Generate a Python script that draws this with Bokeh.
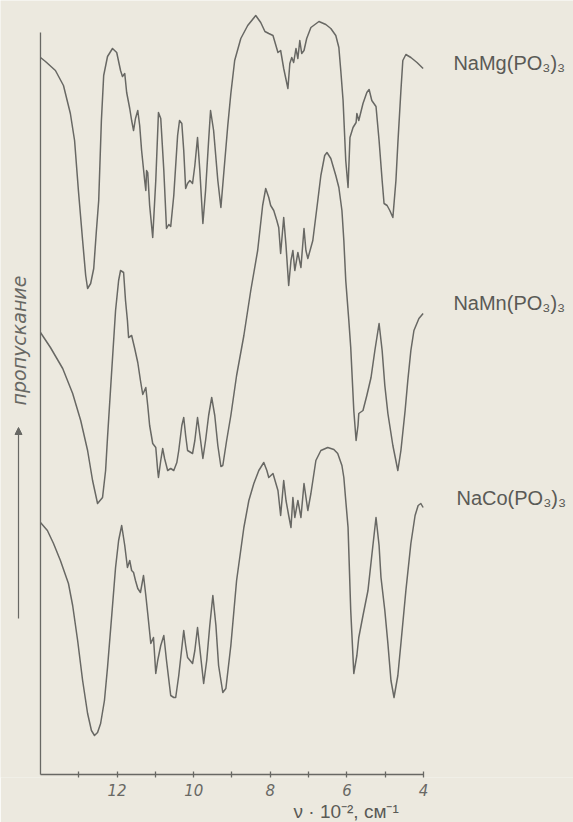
from bokeh.plotting import figure
from bokeh.models import Range1d, FixedTicker, Label, Arrow, NormalHead, ColumnDataSource, Title
from bokeh.embed import file_html
from bokeh.resources import INLINE
import math

# wavenumber in 10^2 cm^-1 ; transmittance in arbitrary units (curves offset)
mg_nu = [14.00,13.87,13.61,13.40,13.22,13.11,13.01,12.90,12.82,12.77,
         12.69,12.61,12.54,12.48,12.41,12.35,12.25,12.12,12.01,11.91,
         11.86,11.80,11.75,11.67,11.62,11.57,11.52,11.46,11.41,11.36,
         11.28,11.25,11.23,11.20,11.15,11.07,10.99,10.92,10.86,10.78,
         10.71,10.65,10.60,10.52,10.42,10.37,10.31,10.26,10.21,10.16,
         10.10,10.03,9.97,9.90,9.84,9.76,9.69,9.61,9.56,9.48,
         9.37,9.29,9.22,9.11,9.03,8.93,8.77,8.59,8.38,8.25,
         8.14,8.04,7.93,7.80,7.73,7.65,7.54,7.49,7.44,7.39,
         7.33,7.28,7.23,7.18,7.12,7.05,6.94,6.73,6.55,6.42,
         6.29,6.21,6.16,6.10,6.03,5.97,5.92,5.84,5.76,5.74,
         5.69,5.58,5.48,5.42,5.35,5.24,5.16,5.08,5.03,4.95,
         4.88,4.80,4.72,4.67,4.59,4.54,4.46,4.33,4.17,4.01]
mg_t = [717,713,704,689,661,634,584,534,499,486,
        491,506,544,574,654,699,718,726,722,704,
        698,701,682,666,654,644,656,664,649,624,
        594,584,604,602,569,537,594,662,656,604,
        546,550,548,579,639,654,651,624,586,591,
        594,591,609,637,604,551,584,634,664,644,
        594,567,599,649,681,714,736,749,759,752,
        743,741,739,722,724,706,686,711,717,712,
        726,716,734,721,724,736,747,753,750,746,
        739,727,704,674,614,587,637,647,652,661,
        654,671,682,685,674,668,634,594,571,569,
        564,557,594,631,684,714,720,717,712,706]

mn_nu = [14.00,13.74,13.42,13.16,12.95,12.77,12.64,12.51,12.38,12.30,
         12.25,12.14,12.04,11.96,11.91,11.83,11.78,11.73,11.70,11.62,
         11.54,11.46,11.39,11.33,11.25,11.20,11.15,11.07,10.99,10.94,
         10.92,10.86,10.81,10.76,10.68,10.60,10.52,10.44,10.39,10.31,
         10.26,10.21,10.16,10.03,9.97,9.90,9.82,9.76,9.69,9.61,
         9.53,9.45,9.37,9.29,9.24,9.14,9.03,8.88,8.69,8.51,
         8.33,8.20,8.12,8.04,7.99,7.91,7.83,7.78,7.73,7.65,
         7.59,7.52,7.46,7.41,7.36,7.28,7.20,7.12,7.07,7.02,
         6.89,6.76,6.68,6.58,6.52,6.42,6.29,6.21,6.13,6.08,
         6.03,5.95,5.90,5.82,5.76,5.71,5.69,5.58,5.48,5.37,
         5.27,5.16,5.08,5.01,4.93,4.80,4.67,4.59,4.48,4.41,
         4.33,4.25,4.12,4.01]
mn_t = [442,427,406,381,354,324,294,271,277,304,
        337,404,464,494,504,502,474,454,437,439,
        426,412,394,380,387,369,349,331,327,304,
        297,314,326,316,304,306,304,312,324,349,
        357,339,324,321,334,357,334,316,334,359,
        377,359,329,308,309,334,359,399,439,484,
        524,569,586,577,569,564,554,547,521,557,
        529,489,514,524,504,522,507,546,524,516,
        534,574,599,619,622,616,599,587,564,534,
        494,454,427,364,334,349,361,364,379,397,
        424,451,424,389,361,329,304,324,364,394,
        424,444,456,461]

co_nu = [14.00,13.82,13.66,13.48,13.27,13.16,13.03,12.90,12.77,12.67,
         12.59,12.51,12.43,12.33,12.25,12.14,12.04,11.96,11.88,11.80,
         11.73,11.67,11.62,11.57,11.52,11.46,11.39,11.31,11.25,11.20,
         11.12,11.05,10.99,10.94,10.86,10.78,10.71,10.60,10.52,10.47,
         10.39,10.26,10.21,10.16,10.03,9.97,9.90,9.82,9.74,9.66,
         9.58,9.50,9.42,9.35,9.24,9.16,9.03,8.88,8.69,8.56,
         8.43,8.30,8.17,8.09,8.04,7.93,7.80,7.73,7.65,7.59,
         7.52,7.46,7.41,7.36,7.28,7.20,7.12,7.02,6.94,6.81,
         6.68,6.50,6.34,6.24,6.13,6.08,6.03,5.97,5.90,5.82,
         5.74,5.69,5.58,5.45,5.35,5.24,5.16,5.11,5.01,4.93,
         4.85,4.77,4.67,4.59,4.46,4.33,4.22,4.14,4.07,4.01]
co_t = [252,244,231,214,191,169,134,94,61,44,
        39,42,51,74,107,159,207,234,249,229,
        207,214,204,202,194,186,182,199,179,161,
        131,137,101,114,129,139,114,79,77,77,
        99,144,129,117,111,124,147,119,91,114,
        149,179,149,109,82,86,129,194,247,274,
        291,304,312,304,297,301,284,259,294,274,
        259,247,277,257,274,257,291,264,281,314,
        324,327,325,321,309,297,274,247,164,101,
        119,137,159,184,219,257,229,197,164,131,
        94,77,99,131,184,231,259,269,271,267]

names = ["NaMg(PO\u2083)\u2083", "NaMn(PO\u2083)\u2083", "NaCo(PO\u2083)\u2083"]
x_ticks = [13, 12, 11, 10, 9, 8, 7, 6, 5, 4]
x_tick_labels = {13: "", 12: "12", 11: "", 10: "10", 9: "", 8: "8", 7: "", 6: "6", 5: "", 4: "4"}
x_title = "\u03bd \u00b7 10\u207b\u00b2, \u0441\u043c\u207b\u00b9"
y_title = "\u043f\u0440\u043e\u043f\u0443\u0441\u043a\u0430\u043d\u0438\u0435"
x_min, x_max = 4, 14
y_top = 742

BG = "#ece9df"
INK = "#686864"
TXT = "#5a5a56"

p = figure(width=573, height=822, output_backend="svg", toolbar_location=None,
           x_range=Range1d(15.044, 0.084), y_range=Range1d(-3, 774),
           y_axis_location=None, min_border_left=0, min_border_right=0,
           min_border_top=0, min_border_bottom=45)
p.background_fill_color = BG
p.border_fill_color = BG
p.outline_line_color = None
p.grid.visible = False

ax = p.xaxis[0]
ax.ticker = FixedTicker(ticks=x_ticks)
ax.major_label_overrides = x_tick_labels
ax.axis_line_color = None
ax.major_tick_line_color = INK
ax.major_tick_line_width = 1.3
ax.major_tick_in = 6
ax.major_tick_out = 0
ax.minor_tick_line_color = None
ax.major_label_standoff = 6
ax.major_label_text_font = "DejaVu Sans"
ax.major_label_text_font_style = "italic"
ax.major_label_text_font_size = "15px"
ax.major_label_text_color = INK

p.add_layout(Title(text=x_title, align="left", offset=293, standoff=0,
                   text_font="Liberation Sans", text_font_size="19px",
                   text_font_style="normal", text_color=TXT), "below")

# frame lines (baseline and left edge of the chart)
p.line([x_min, x_max], [0, 0], line_color=INK, line_width=1.3)
p.line([x_max, x_max], [0, y_top], line_color=INK, line_width=1.3)

for nu, t in [(mg_nu, mg_t), (mn_nu, mn_t), (co_nu, co_t)]:
    p.line(x="nu", y="t", source=ColumnDataSource(dict(nu=nu, t=t)),
           line_color=INK, line_width=1.5, line_join="round")

for name, (lx, ly) in zip(names, [(3.22, 712), (3.22, 472), (3.14, 277)]):
    p.add_layout(Label(x=lx, y=ly, text=name, text_font="Liberation Sans",
                       text_font_size="20px", text_color=TXT,
                       text_baseline="middle", text_align="left"))

p.add_layout(Arrow(end=NormalHead(size=7, fill_color=INK, line_color=INK),
                   x_start=14.574, y_start=156, x_end=14.574, y_end=347,
                   line_color=INK, line_width=1.2))
p.add_layout(Label(x=14.574, y=434, text=y_title,
                   angle=math.pi / 2, text_font="DejaVu Sans", text_font_style="italic",
                   text_font_size="19px", text_color=INK,
                   text_align="center", text_baseline="middle"))

open("out.html", "w").write(file_html(p, INLINE))
